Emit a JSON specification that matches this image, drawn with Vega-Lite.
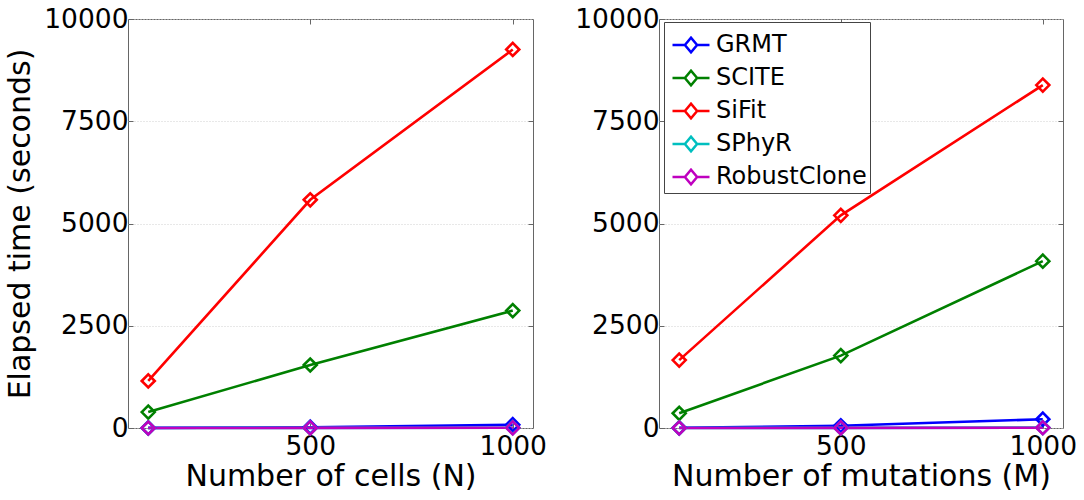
{
  "$schema": "https://vega.github.io/schema/vega-lite/v6.json",
  "padding": {"left": 5, "top": 5, "right": 5, "bottom": 5},
  "config": {
    "font": "DejaVu Sans",
    "view": {"stroke": "#666", "strokeWidth": 1},
    "axis": {
      "labelFontSize": 26.5,
      "titleFontSize": 30,
      "labelColor": "black",
      "titleColor": "black",
      "titleFontWeight": "normal",
      "domain": false,
      "tickColor": "#666",
      "tickSize": -5,
      "grid": false
    }
  },
  "data": {
    "values": [
      {"panel": "cells", "method": "GRMT", "n": 100, "time": 2},
      {"panel": "cells", "method": "GRMT", "n": 500, "time": 20},
      {"panel": "cells", "method": "GRMT", "n": 1000, "time": 80},
      {"panel": "cells", "method": "SCITE", "n": 100, "time": 390},
      {"panel": "cells", "method": "SCITE", "n": 500, "time": 1540},
      {"panel": "cells", "method": "SCITE", "n": 1000, "time": 2870},
      {"panel": "cells", "method": "SiFit", "n": 100, "time": 1150},
      {"panel": "cells", "method": "SiFit", "n": 500, "time": 5580},
      {"panel": "cells", "method": "SiFit", "n": 1000, "time": 9255},
      {"panel": "cells", "method": "SPhyR", "n": 100, "time": 1},
      {"panel": "cells", "method": "SPhyR", "n": 500, "time": 3},
      {"panel": "cells", "method": "SPhyR", "n": 1000, "time": 8},
      {"panel": "cells", "method": "RobustClone", "n": 100, "time": 0},
      {"panel": "cells", "method": "RobustClone", "n": 500, "time": 2},
      {"panel": "cells", "method": "RobustClone", "n": 1000, "time": 5},
      {"panel": "mutations", "method": "GRMT", "n": 100, "time": 5},
      {"panel": "mutations", "method": "GRMT", "n": 500, "time": 55},
      {"panel": "mutations", "method": "GRMT", "n": 1000, "time": 215},
      {"panel": "mutations", "method": "SCITE", "n": 100, "time": 360},
      {"panel": "mutations", "method": "SCITE", "n": 500, "time": 1770},
      {"panel": "mutations", "method": "SCITE", "n": 1000, "time": 4080},
      {"panel": "mutations", "method": "SiFit", "n": 100, "time": 1660},
      {"panel": "mutations", "method": "SiFit", "n": 500, "time": 5200},
      {"panel": "mutations", "method": "SiFit", "n": 1000, "time": 8385},
      {"panel": "mutations", "method": "SPhyR", "n": 100, "time": 1},
      {"panel": "mutations", "method": "SPhyR", "n": 500, "time": 4},
      {"panel": "mutations", "method": "SPhyR", "n": 1000, "time": 10},
      {"panel": "mutations", "method": "RobustClone", "n": 100, "time": 0},
      {"panel": "mutations", "method": "RobustClone", "n": 500, "time": 2},
      {"panel": "mutations", "method": "RobustClone", "n": 1000, "time": 6}
    ]
  },
  "bounds": "flush",
  "spacing": 126,
  "resolve": {"legend": {"color": "independent"}},
  "hconcat": [
    {
      "width": 405,
      "height": 409,
      "transform": [{"filter": "datum.panel === 'cells'"}],
      "layer": [
        {
          "mark": {
            "type": "line",
            "strokeWidth": 2.6,
            "point": {"shape": "diamond", "filled": false, "size": 170, "strokeWidth": 2.6}
          },
          "encoding": {
            "x": {
              "field": "n",
              "type": "quantitative",
              "scale": {"domain": [50, 1050], "nice": false},
              "axis": {"values": [500, 1000], "format": "d", "title": "Number of cells (N)", "labelPadding": 10, "titlePadding": 2}
            },
            "y": {
              "field": "time",
              "type": "quantitative",
              "scale": {"domain": [0, 10000], "nice": false},
              "axis": {
                "values": [0, 2500, 5000, 7500, 10000],
                "format": "d",
                "title": "Elapsed time (seconds)",
                "titlePadding": 8,
                "labelPadding": 5,
                "grid": true,
                "gridColor": "#d0d0d0",
                "gridDash": [1, 2]
              }
            },
            "color": {
              "field": "method",
              "type": "nominal",
              "scale": {
                "domain": ["GRMT", "SCITE", "SiFit", "SPhyR", "RobustClone"],
                "range": ["#0000ff", "#008000", "#ff0000", "#00bfbf", "#bf00bf"]
              },
              "legend": null
            }
          }
        },
        {
          "mark": {"type": "point", "opacity": 0},
          "encoding": {
            "x": {"field": "n", "type": "quantitative", "axis": {"orient": "top", "values": [500, 1000], "labels": false, "title": null}},
            "y": {"field": "time", "type": "quantitative", "axis": {"orient": "right", "values": [2500, 5000, 7500], "labels": false, "title": null}}
          }
        }
      ],
      "resolve": {"axis": {"x": "independent", "y": "independent"}}
    },
    {
      "width": 404,
      "height": 409,
      "transform": [{"filter": "datum.panel === 'mutations'"}],
      "layer": [
        {
          "mark": {
            "type": "line",
            "strokeWidth": 2.6,
            "point": {"shape": "diamond", "filled": false, "size": 170, "strokeWidth": 2.6}
          },
          "encoding": {
            "x": {
              "field": "n",
              "type": "quantitative",
              "scale": {"domain": [50, 1050], "nice": false},
              "axis": {"values": [500, 1000], "format": "d", "title": "Number of mutations (M)", "labelPadding": 10, "titlePadding": 2}
            },
            "y": {
              "field": "time",
              "type": "quantitative",
              "scale": {"domain": [0, 10000], "nice": false},
              "axis": {
                "values": [0, 2500, 5000, 7500, 10000],
                "format": "d",
                "title": null,
                "labelPadding": 5,
                "grid": true,
                "gridColor": "#d0d0d0",
                "gridDash": [1, 2]
              }
            },
            "color": {
              "field": "method",
              "type": "nominal",
              "scale": {
                "domain": ["GRMT", "SCITE", "SiFit", "SPhyR", "RobustClone"],
                "range": ["#0000ff", "#008000", "#ff0000", "#00bfbf", "#bf00bf"]
              },
              "legend": {
                "orient": "none",
                "legendX": 5,
                "legendY": 3,
                "title": null,
                "symbolType": "M-1,0L-0.33,0M0.33,0L1,0M-0.33,0L0,-0.4L0.33,0L0,0.4Z",
                "symbolSize": 1369,
                "symbolStrokeWidth": 2.5,
                "symbolFillColor": "white",
                "symbolOffset": 4,
                "labelFontSize": 24,
                "labelColor": "black",
                "labelOffset": 5,
                "strokeColor": "#444",
                "fillColor": "white",
                "padding": 3,
                "rowPadding": 0
              }
            }
          }
        },
        {
          "mark": {"type": "point", "opacity": 0},
          "encoding": {
            "x": {"field": "n", "type": "quantitative", "axis": {"orient": "top", "values": [500, 1000], "labels": false, "title": null}},
            "y": {"field": "time", "type": "quantitative", "axis": {"orient": "right", "values": [2500, 5000, 7500], "labels": false, "title": null}}
          }
        }
      ],
      "resolve": {"axis": {"x": "independent", "y": "independent"}}
    }
  ]
}
